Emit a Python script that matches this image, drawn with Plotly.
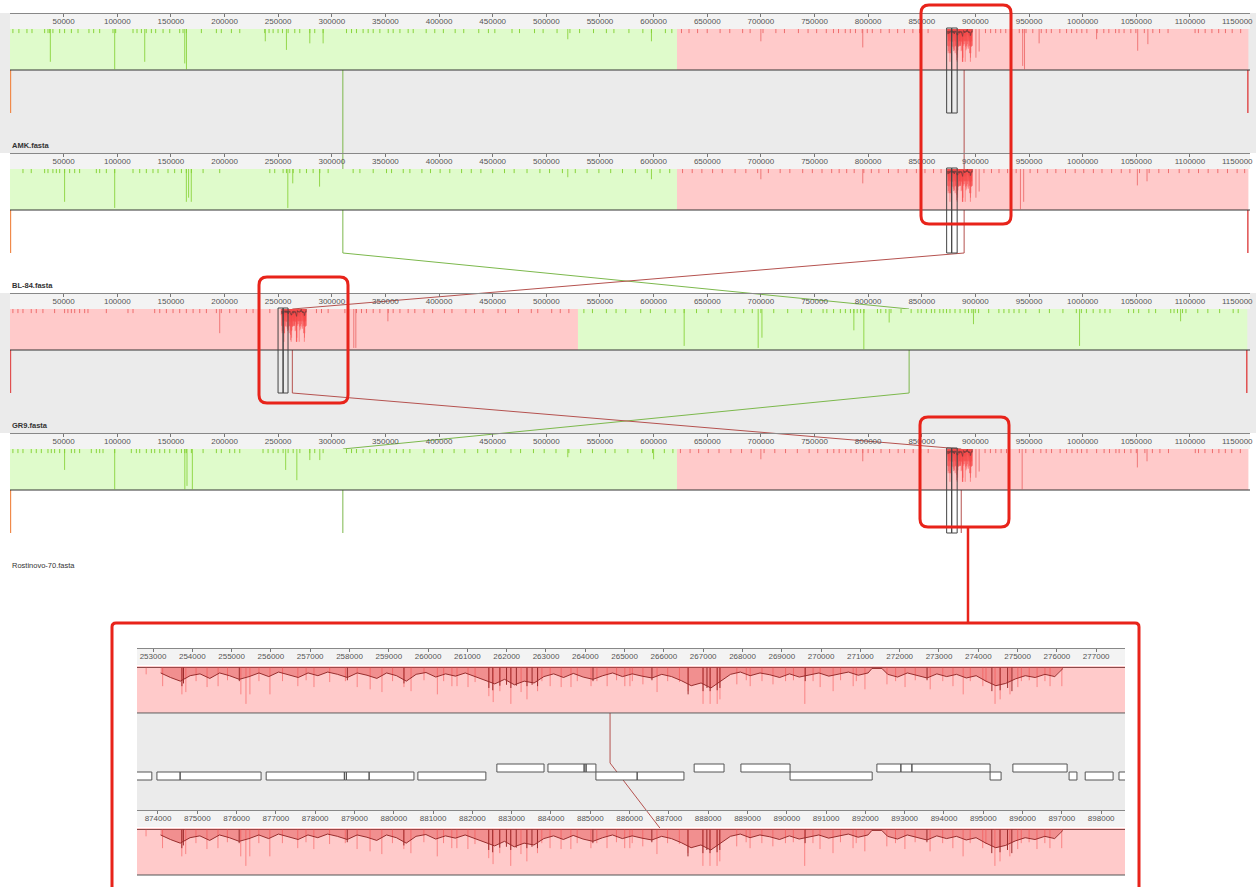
import plotly.graph_objects as go

W, H = 1256, 887

# ---------------- data ----------------
GENOMES = ["AMK.fasta", "BL-84.fasta", "GR9.fasta", "Rostinovo-70.fasta"]
GENOME_AXIS_KB = 1156.0

# LCB blocks per genome: (lcb id, start kb, end kb)
BLOCKS = [
    [("A", 0.0, 621.8), ("B", 621.8, 1154.5)],
    [("A", 0.0, 621.8), ("B", 621.8, 1154.5)],
    [("B", 0.0, 529.5), ("A", 529.5, 1153.5)],
    [("A", 0.0, 621.8), ("B", 621.8, 1154.5)],
]
# connection line position of each LCB in each genome (kb)
CONNECT = {"A": [310.3, 310.3, 838.2, 310.3], "B": [889.5, 889.5, 263.2, 886.8]}
# small LCBs at the genome ends
END_LINES = [[("C", 0.4), ("D", 1154.0)], [("C", 0.4), ("D", 1154.0)],
             [("D", 0.4), ("D", 1153.0)], [("C", 0.4)]]
# highlighted windows (kb)
HILITE = [[(873.2, 877.9), (877.9, 883.0)], [(873.2, 877.9), (877.9, 883.0)],
          [(249.9, 254.6), (254.6, 259.2)], [(873.2, 877.9), (877.9, 883.0)]]
LCB_B_DETAIL_START = [874.1, 874.1, 253.2, 874.1]

TICK_DEPTH = 0.1
TICKS = [
    [2.7, 8.3, 15.8, 20.5, 32.3, 35.4, 37, 40, 46.3, 50.9, 57.2, 63.4, 73.6, 78, 83.6, 96, 98.5, 114.7, 118.4,
     122.5, 127, 131.8, 135.8, 142.7, 148.9, 158.2, 161.3, 164.4, 178.4, 192.4, 197, 206.4, 214.2, 237.5, 241.5,
     245.3, 249.9, 254, 259.3, 265.5, 270.1, 279.5, 284.1, 291.9, 313.7, 318.4, 323, 329.2, 333.9, 338.6, 344.8,
     352.6, 357.2, 363.5, 371.2, 375.9, 388, 396, 404, 415, 423, 437, 446, 452, 468, 475, 489, 497, 510, 522, 531,
     544, 556, 563, 577, 590, 598, 611, 617, 626, 633, 641, 650, 662, 671, 683, 690, 702, 714, 722, 735, 744, 752,
     761, 767.7, 772.4, 778.7, 783.4, 788.2, 794.5, 799.2, 803.9, 811.8, 819.7, 827.5, 833.8, 841.7, 848, 855.9,
     909.4, 914.2, 918.9, 923.6, 928.3, 940.9, 944.1, 947.2, 953.5, 961.4, 966.1, 970.8, 978.7, 985, 989.7, 994.5,
     999.2, 1003.9, 1013.4, 1019.7, 1024.4, 1030.7, 1033.9, 1038.6, 1044.9, 1049.6, 1057.5, 1065.4, 1071.7,
     1079.6, 1104.8, 1107.9, 1114.2, 1120.5, 1126.8, 1133.1, 1139.4, 1147.3],
    [12.1, 19.8, 32.3, 35.4, 40, 43.2, 46.3, 50.9, 55.6, 60.3, 64.9, 80.5, 83.6, 89.8, 97.6, 114.7, 120.9, 127.1,
     133.3, 138, 147.3, 153.5, 159.8, 164.4, 169.1, 180, 195.5, 242.2, 246.8, 254.6, 257.7, 260.8, 264, 270.2,
     276.4, 282.6, 288.8, 296.6, 319.9, 326.2, 338.6, 351, 355.7, 366.6, 372.8, 384, 392, 401, 410, 421, 430, 439,
     450, 461, 470, 482, 494, 503, 515, 527, 538, 549, 560, 571, 583, 594, 606, 615, 627, 636, 645, 655, 664, 676,
     686, 697, 707, 718, 727, 739, 748, 757, 766, 773, 780, 787, 796, 803, 810, 819, 828, 836, 845, 853, 861, 868,
     908, 915, 922, 930, 938, 951, 958, 967, 975, 984, 993, 1001, 1010, 1018, 1027, 1036, 1044, 1053, 1062, 1071,
     1080, 1090, 1099, 1108, 1117, 1126, 1135, 1144, 1151],
    [2.7, 7.4, 12.1, 19.8, 24.5, 30.7, 41.6, 50.9, 54, 57.2, 60.3, 64.9, 69.6, 72.7, 89.8, 110, 114.7, 134.9,
     139.6, 145.8, 152, 158.2, 164.4, 170.7, 176.9, 183.1, 192.4, 197, 204.8, 211, 220.4, 226.6, 242.2, 285.7,
     290.4, 296.6, 312.2, 315.3, 323, 327.7, 332.3, 338.6, 344.8, 352.6, 357.2, 363.5, 371.2, 377.4, 386, 394, 405,
     412, 425, 433, 441, 455, 462, 474, 486, 492, 505, 513, 521, 535, 543, 556, 565, 574, 588, 597, 611, 620, 628.5,
     640, 651, 663, 676, 684, 692, 700, 712, 725, 738, 747, 758, 761.5, 767.8, 774.1, 778.8, 783.5, 786.7, 789.8,
     793, 796.1, 808.7, 811.8, 816.5, 821.3, 830.7, 840.1, 846.4, 849.5, 854.3, 859, 862.1, 866.8, 870, 873.1,
     876.3, 881, 885.7, 890.4, 893.6, 896.7, 899.9, 903, 912.4, 921.9, 926.6, 931.3, 936, 940.7, 947, 959.6, 969,
     981.6, 994.1, 998.8, 1003.5, 1009.8, 1016.1, 1020.8, 1025.5, 1042.8, 1047.5, 1052.2, 1061.7, 1068, 1082.1,
     1085.2, 1088.4, 1093.1, 1096.3, 1107.3, 1116.7, 1127.7, 1140.3, 1145],
    [2.7, 7.4, 12.1, 19.8, 24.5, 29.2, 35.4, 38.5, 41.6, 46.3, 50.9, 57.2, 60.3, 64.9, 75.8, 80.5, 83.6, 86.7,
     97.6, 113.1, 117.8, 120.9, 127.1, 131.8, 134.9, 139.6, 144.2, 148.9, 155.1, 159.8, 162.9, 164.4, 169.1, 180,
     192.4, 197, 204.8, 209.5, 214.2, 235.9, 240.6, 245.3, 249.9, 254.6, 259.3, 264, 270.2, 279.5, 284.1, 291.9,
     313.7, 318.4, 323, 329.2, 335.5, 341.7, 347.9, 354.1, 360.3, 366.6, 372.8, 386, 395, 403, 414, 424, 436, 445,
     453, 467, 476, 488, 498, 509, 521, 532, 543, 555, 564, 576, 589, 599, 610, 618, 625, 634, 642, 651, 661, 672,
     682, 691, 703, 713, 723, 734, 745, 753, 762, 768, 773, 779, 784, 789, 795, 800, 805, 812, 820, 828, 834, 842,
     849, 856, 909, 914, 919, 924, 929, 941, 947, 954, 961, 966, 971, 979, 985, 990, 995, 999, 1004, 1013, 1020,
     1025, 1031, 1034, 1039, 1045, 1050, 1058, 1065, 1072, 1080, 1105, 1108, 1114, 1121, 1127, 1133, 1139, 1147],
]
# deeper similarity dips: (kb, depth fraction)
SPIKES = [
    [(37.6, 0.8), (97.6, 0.98), (125.6, 0.8), (162.9, 0.84), (164.5, 0.98), (238, 0.3), (257.7, 0.51),
     (279.5, 0.35), (291.9, 0.35), (520, 0.25), (598, 0.3), (700, 0.3), (795, 0.45), (900.5, 0.7), (903.5, 0.55),
     (944.1, 0.9), (945.8, 0.98), (959.4, 0.35), (1013, 0.25), (1051.3, 0.53), (1060.8, 0.37)],
    [(50.9, 0.8), (97.6, 0.95), (164.4, 0.8), (166.5, 0.7), (169, 0.8), (259, 0.95), (263.6, 0.35), (288.6, 0.43),
     (520, 0.2), (598, 0.25), (700, 0.25), (795, 0.35), (900.5, 0.7), (903.5, 0.55), (942, 0.98), (945, 0.8),
     (1051, 0.4), (1060, 0.3)],
    [(195.5, 0.59), (320.5, 0.95), (322.4, 0.95), (352.3, 0.3), (628.5, 0.9), (697.5, 0.95), (701, 0.7),
     (786.7, 0.52), (796, 0.98), (819.6, 0.33), (898.2, 0.37), (997.1, 0.9), (1091.3, 0.3)],
    [(50.9, 0.51), (97.6, 0.98), (163, 0.98), (165, 0.9), (170, 0.98), (257, 0.51), (267.4, 0.76), (279.5, 0.27),
     (288.8, 0.27), (520, 0.2), (600, 0.25), (700, 0.25), (795, 0.3), (900.5, 0.7), (903.5, 0.55), (943.6, 0.98),
     (1051, 0.45), (1060, 0.3)],
]

# similarity profile of the detailed LCB: (offset kb from LCB start, depth fraction)
PROFILE = [(0.00, 0.12), (0.25, 0.22), (0.50, 0.30), (0.75, 0.18), (1.00, 0.14), (1.25, 0.24), (1.50, 0.12),
           (1.75, 0.18), (2.00, 0.26), (2.25, 0.20), (2.50, 0.12), (2.75, 0.20), (3.00, 0.10), (3.25, 0.16),
           (3.50, 0.22), (3.75, 0.12), (4.00, 0.18), (4.25, 0.10), (4.50, 0.15), (4.75, 0.22), (5.00, 0.12),
           (5.25, 0.17), (5.50, 0.24), (5.75, 0.12), (6.00, 0.18), (6.25, 0.30), (6.50, 0.15), (6.75, 0.11),
           (7.00, 0.21), (7.25, 0.14), (7.50, 0.19), (7.75, 0.12), (8.00, 0.20), (8.25, 0.28), (8.50, 0.36),
           (8.75, 0.26), (9.00, 0.38), (9.25, 0.30), (9.50, 0.34), (9.75, 0.20), (10.00, 0.14), (10.25, 0.22),
           (10.50, 0.13), (10.75, 0.21), (11.00, 0.26), (11.25, 0.18), (11.50, 0.12), (11.75, 0.20), (12.00, 0.14),
           (12.25, 0.19), (12.50, 0.23), (12.75, 0.15), (13.00, 0.20), (13.25, 0.29), (13.50, 0.40), (13.75, 0.34),
           (14.00, 0.45), (14.25, 0.30), (14.50, 0.15), (14.75, 0.10), (15.00, 0.18), (15.25, 0.12), (15.50, 0.16),
           (15.75, 0.22), (16.00, 0.14), (16.25, 0.21), (16.50, 0.16), (16.75, 0.12), (17.00, 0.19), (17.25, 0.14),
           (17.50, 0.10), (17.75, 0.17), (18.00, 0.12), (18.10, 0.02), (18.35, 0.02), (18.50, 0.15), (18.75, 0.21),
           (19.00, 0.12), (19.25, 0.18), (19.50, 0.23), (19.75, 0.14), (20.00, 0.20), (20.25, 0.15), (20.50, 0.23),
           (20.75, 0.18), (21.00, 0.30), (21.25, 0.40), (21.50, 0.35), (21.75, 0.25), (22.00, 0.18), (22.25, 0.22),
           (22.50, 0.15), (22.75, 0.20), (22.96, 0.02)]
LIGHT_DIPS = [(-0.37, 0.15), (0.05, 0.41), (0.54, 0.59), (0.64, 0.54), (0.9, 0.3), (1.18, 0.43), (1.46, 0.41),
              (1.7, 0.28), (2.04, 0.59), (2.17, 0.80), (2.27, 0.59), (2.5, 0.3), (2.78, 0.59), (3.1, 0.3),
              (3.49, 0.41), (3.7, 0.28), (3.90, 0.43), (4.3, 0.32), (4.7, 0.3), (5.00, 0.43), (5.33, 0.48),
              (5.63, 0.54), (5.9, 0.3), (6.19, 0.43), (6.37, 0.52), (6.7, 0.28), (7.04, 0.59), (7.2, 0.3),
              (7.41, 0.41), (7.54, 0.41), (7.82, 0.43), (8.0, 0.32), (8.35, 0.63), (8.46, 0.76), (8.63, 0.52),
              (8.91, 0.80), (9.17, 0.54), (9.32, 0.70), (9.59, 0.52), (9.7, 0.3), (9.91, 0.41), (10.19, 0.43),
              (10.44, 0.43), (10.6, 0.3), (10.95, 0.41), (11.1, 0.3), (11.36, 0.41), (11.6, 0.28), (11.81, 0.41),
              (11.94, 0.41), (12.0, 0.3), (12.27, 0.37), (12.63, 0.54), (12.9, 0.3), (13.2, 0.32), (13.42, 0.52),
              (13.80, 0.80), (13.98, 0.80), (14.16, 0.80), (14.23, 0.70), (14.66, 0.37), (14.9, 0.28),
              (15.00, 0.41), (15.3, 0.3), (15.58, 0.37), (15.9, 0.3), (16.1, 0.28), (16.39, 0.80), (16.6, 0.3),
              (16.78, 0.43), (17.11, 0.52), (17.3, 0.28), (17.62, 0.41), (17.7, 0.3), (17.92, 0.48), (18.48, 0.37),
              (18.7, 0.3), (18.94, 0.43), (19.2, 0.28), (19.58, 0.48), (19.9, 0.3), (20.16, 0.41), (20.42, 0.59),
              (20.6, 0.3), (20.92, 0.41), (21.0, 0.32), (21.23, 0.80), (21.36, 0.70), (21.61, 0.59), (21.81, 0.43),
              (21.9, 0.3), (22.1, 0.28), (22.30, 0.43), (22.5, 0.3), (22.63, 0.41), (22.93, 0.41)]
DARK_DIPS = [(0.54, 0.41), (0.58, 0.35), (2.0, 0.3), (4.75, 0.28), (6.19, 0.35), (8.35, 0.45), (8.45, 0.50),
             (8.63, 0.40), (8.80, 0.38), (8.91, 0.45), (9.05, 0.40), (9.32, 0.41), (9.45, 0.38), (9.59, 0.41),
             (11.0, 0.3), (12.5, 0.28), (13.42, 0.59), (13.80, 0.52), (13.90, 0.45), (13.98, 0.52), (14.16, 0.50),
             (14.23, 0.45), (16.4, 0.3), (19.5, 0.28), (21.15, 0.52), (21.36, 0.50), (21.55, 0.45), (21.66, 0.52)]

# detail view (GR9 above, Rostinovo-70 below), kb
ZOOM_GENOMES = [2, 3]
ZOOM_RANGE = [(252.593, 277.733), (873.466, 898.606)]
ZOOM_LCB_START = [253.196, 874.066]
ZOOM_CONNECT = [264.63, 886.77]
GENES_FWD = [(261.75, 262.95), (263.05, 263.97), (263.97, 264.02), (264.02, 264.27), (266.77, 267.53),
             (267.96, 269.21), (271.42, 272.03), (272.03, 272.31), (272.31, 274.30), (274.88, 276.26)]
GENES_REV = [(252.30, 252.97), (253.10, 253.69), (253.69, 255.75), (255.88, 257.87), (257.87, 257.92),
             (257.92, 258.50), (258.50, 259.64), (259.74, 261.47), (264.27, 265.32), (265.32, 266.51),
             (269.21, 271.30), (274.30, 274.58), (276.31, 276.51), (276.72, 277.43), (277.58, 278.10)]

RULER_TICKS = list(range(50000, 1150001, 50000))

# ---------------- style / layout constants ----------------
LCB_FILL = {"A": "#dffbcb", "B": "#ffcaca"}
LCB_TICK = {"A": "#86d236", "B": "#ee6a6a"}
LCB_LINE = {"A": "#7cb84c", "B": "#b5524f", "C": "#f08a4b", "D": "#e05050"}
GREY = "#ebebeb"
BAND_C = "#f3f3f3"
RULER_Y = [13, 153, 293, 433]
LABEL_Y = [145, 285.5, 425.5, 565.5]
BAND, BLOCK_H, LOWER_H = 16, 41, 43
ZR_Y = [648, 810]
ZBAND, ZBLOCK_H = 18, 47
FONT = "Liberation Sans"
TICK_FONT = dict(family=FONT, size=8, color="#555")

traces = []
K = 1000.0


def segs(xs, y0, y1, color, width, xa, opacity=1.0):
    X, Y = [], []
    for x, a, b in zip(xs, y0, y1):
        X += [x, x, None]
        Y += [a, b, None]
    return go.Scatter(x=X, y=Y, mode="lines", line=dict(color=color, width=width), opacity=opacity,
                      xaxis=xa, yaxis="y", hoverinfo="skip", showlegend=False)


def rects(spans, y0, y1, fill, line_color, lw, xa):
    X, Y = [], []
    for s, e in spans:
        X += [s, e, e, s, s, None]
        Y += [y0, y0, y1, y1, y0, None]
    return go.Scatter(x=X, y=Y, mode="lines", fill="toself", fillcolor=fill,
                      line=dict(color=line_color, width=lw), xaxis=xa, yaxis="y",
                      hoverinfo="skip", showlegend=False)


def lcb_at(blocks, kb):
    for lid, s, e in blocks:
        if s <= kb <= e:
            return lid
    return blocks[-1][0]


def detail(start_kb, top, h, xa, overview):
    out = []
    xs = [(start_kb + o) * K for o, _ in PROFILE]
    ys = [top + d * h for _, d in PROFILE]
    fill = "rgba(240,70,70,0.85)" if overview else "rgba(225,70,70,0.45)"
    out.append(go.Scatter(x=xs + xs[::-1], y=ys + [top] * len(xs), mode="lines", fill="toself",
                          fillcolor=fill, line=dict(width=0), xaxis=xa, yaxis="y",
                          hoverinfo="skip", showlegend=False))
    out.append(segs([(start_kb + o) * K for o, _ in LIGHT_DIPS], [top] * len(LIGHT_DIPS),
                    [top + d * h for _, d in LIGHT_DIPS], "rgba(245,75,75,0.55)", 1, xa))
    if overview:
        out.append(go.Scatter(x=xs, y=[top + 0.4 * (y - top) for y in ys], mode="lines",
                              line=dict(color="#7a3a3a", width=0.8), xaxis=xa, yaxis="y",
                              hoverinfo="skip", showlegend=False))
    else:
        out.append(go.Scatter(x=xs, y=ys, mode="lines", line=dict(color="#8c1f1f", width=0.9), xaxis=xa,
                              yaxis="y", hoverinfo="skip", showlegend=False))
        out.append(segs([(start_kb + o) * K for o, _ in DARK_DIPS], [top] * len(DARK_DIPS),
                        [top + d * h for _, d in DARK_DIPS], "#9b2a2a", 1, xa))
    return out


# ---- genome overview: connection lines (below blocks) ----
for lid, pos in CONNECT.items():
    X, Y = [], []
    for g in range(4):
        top = RULER_Y[g] + BAND
        X += [pos[g] * K, pos[g] * K]
        Y += [top, top + BLOCK_H + LOWER_H]
    traces.append(go.Scatter(x=X, y=Y, mode="lines", line=dict(color=LCB_LINE[lid], width=1),
                             xaxis="x", yaxis="y", hoverinfo="skip", showlegend=False))

for g in range(4):
    top = RULER_Y[g] + BAND
    ctr = top + BLOCK_H
    bot = ctr + LOWER_H
    for lid, p in END_LINES[g]:
        traces.append(segs([p * K], [ctr], [bot], LCB_LINE[lid], 1.5, "x"))
    for lid, s, e in BLOCKS[g]:
        traces.append(rects([(s * K, e * K)], top, ctr, LCB_FILL[lid], "rgba(0,0,0,0)", 0, "x"))
    for lid in LCB_FILL:
        tk = [t for t in TICKS[g] if lcb_at(BLOCKS[g], t) == lid]
        traces.append(segs([t * K for t in tk], [top] * len(tk), [top + TICK_DEPTH * BLOCK_H] * len(tk),
                           LCB_TICK[lid], 1, "x", 0.95))
        sp = [(p, d) for p, d in SPIKES[g] if lcb_at(BLOCKS[g], p) == lid]
        traces.append(segs([p * K for p, _ in sp], [top] * len(sp), [top + d * BLOCK_H for _, d in sp],
                           LCB_TICK[lid], 1, "x", 0.85))
    traces += detail(LCB_B_DETAIL_START[g], top, BLOCK_H, "x", True)
    traces.append(go.Scatter(x=[0, GENOME_AXIS_KB * K], y=[ctr, ctr], mode="lines",
                             line=dict(color="#333333", width=1), xaxis="x", yaxis="y",
                             hoverinfo="skip", showlegend=False))
    traces.append(rects([(s * K, e * K) for s, e in HILITE[g]], top - 1, bot, "rgba(0,0,0,0)", "#444444", 1, "x"))

# ruler axes need a trace each
for i in range(4):
    traces.append(go.Scatter(x=[None], y=[None], xaxis=f"x{i + 2}", yaxis="y", showlegend=False,
                             hoverinfo="skip"))

# ---- detail view ----
zx = ["x6", "x7"]
ztop = [ZR_Y[i] + ZBAND for i in range(2)]
# connector (drawn in the GR9 detail axis; Rostinovo position mapped onto it)
ro_on_gr9 = ZOOM_CONNECT[1] - ZOOM_RANGE[1][0] + ZOOM_RANGE[0][0]
traces.append(go.Scatter(x=[ZOOM_CONNECT[0] * K, ZOOM_CONNECT[0] * K, ro_on_gr9 * K],
                         y=[ztop[0], 763, ztop[1]], mode="lines", line=dict(color=LCB_LINE["B"], width=1),
                         xaxis="x6", yaxis="y", hoverinfo="skip", showlegend=False))
for i in range(2):
    g = ZOOM_GENOMES[i]
    top = ztop[i]
    ctr = top + ZBLOCK_H
    r0, r1 = ZOOM_RANGE[i]
    for lid, s, e in BLOCKS[g]:
        s2, e2 = max(s, r0 - 1), min(e, r1 + 1)
        if s2 < e2:
            traces.append(rects([(s2 * K, e2 * K)], top, ctr, LCB_FILL[lid], "rgba(0,0,0,0)", 0, zx[i]))
    traces.append(go.Scatter(x=[r0 * K, r1 * K], y=[top + 1.5, top + 1.5], mode="lines",
                             line=dict(color="#8a4a4a", width=1), xaxis=zx[i], yaxis="y",
                             hoverinfo="skip", showlegend=False))
    traces += detail(ZOOM_LCB_START[i], top + 1.5, ZBLOCK_H - 1.5, zx[i], False)
    traces.append(go.Scatter(x=[r0 * K, r1 * K], y=[ctr, ctr], mode="lines",
                             line=dict(color="#555555", width=1.2), xaxis=zx[i], yaxis="y",
                             hoverinfo="skip", showlegend=False))
traces.append(rects([(s * K, e * K) for s, e in GENES_FWD], 764, 772, "#ffffff", "#555555", 1, "x6"))
traces.append(rects([(s * K, e * K) for s, e in GENES_REV], 772, 780, "#ffffff", "#555555", 1, "x6"))

fig = go.Figure(traces)

# ---------------- shapes ----------------
def px(x):
    return x / W


def py(y):
    return 1 - y / H


shapes = []


def prect(x0, y0, x1, y1, color, layer="below"):
    shapes.append(dict(type="rect", xref="paper", yref="paper", x0=px(x0), x1=px(x1), y0=py(y1), y1=py(y0),
                       fillcolor=color, line=dict(width=0), layer=layer))


prect(0, RULER_Y[0], W, RULER_Y[1], GREY)
prect(0, RULER_Y[2], W, RULER_Y[3], GREY)
for r in RULER_Y:
    prect(10, r, 1250, r + BAND, BAND_C)
prect(137, 714, 1125, ZR_Y[1], GREY)
for r in ZR_Y:
    prect(137, r, 1125, r + ZBAND - 1, BAND_C)


def rrect(x0, y0, x1, y1, r):
    p = (f"M {px(x0 + r)},{py(y0)} L {px(x1 - r)},{py(y0)} Q {px(x1)},{py(y0)} {px(x1)},{py(y0 + r)} "
         f"L {px(x1)},{py(y1 - r)} Q {px(x1)},{py(y1)} {px(x1 - r)},{py(y1)} L {px(x0 + r)},{py(y1)} "
         f"Q {px(x0)},{py(y1)} {px(x0)},{py(y1 - r)} L {px(x0)},{py(y0 + r)} Q {px(x0)},{py(y0)} {px(x0 + r)},{py(y0)} Z")
    shapes.append(dict(type="path", xref="paper", yref="paper", path=p,
                       line=dict(color="#e8231a", width=3), layer="above"))


rrect(921, 5, 1011, 224, 8)
rrect(259, 277, 348, 403, 8)
rrect(920, 417, 1009, 527, 8)
rrect(112, 623, 1139, 905, 4)
shapes.append(dict(type="line", xref="paper", yref="paper", x0=px(968), x1=px(968), y0=py(527), y1=py(623),
                   line=dict(color="#e8231a", width=2.5), layer="above"))

annotations = []
for g in range(4):
    txt = GENOMES[g] if g == 3 else f"<b>{GENOMES[g]}</b>"
    annotations.append(dict(text=txt, x=px(10), xref="paper", y=LABEL_Y[g], yref="y", xanchor="left",
                            yanchor="middle", showarrow=False, font=dict(family=FONT, size=7.5, color="#333")))
    # last ruler label sits at the right edge (plotly hides it), so it is written as text kept inside the page
    annotations.append(dict(text=str(RULER_TICKS[-1]), x=px(1255), xref="paper", y=RULER_Y[g] + 8.5,
                            yref="y", xanchor="right", yanchor="middle", showarrow=False, font=TICK_FONT))

axis_common = dict(side="top", anchor="free", ticks="inside", ticklen=3, tickcolor="#777",
                   showline=True, linecolor="#888", linewidth=1, ticklabelposition="inside",
                   tickfont=TICK_FONT, showgrid=False, zeroline=False,
                   tickformat="d", fixedrange=True)

layout = dict(
    width=W, height=H, margin=dict(l=0, r=0, t=0, b=0), paper_bgcolor="white",
    plot_bgcolor="rgba(0,0,0,0)", showlegend=False, hovermode=False,
    xaxis=dict(domain=[px(10), px(1250)], range=[0, GENOME_AXIS_KB * K], visible=False, fixedrange=True),
    yaxis=dict(domain=[0, 1], range=[H, 0], visible=False, fixedrange=True),
    shapes=shapes, annotations=annotations,
)
for i in range(4):
    layout[f"xaxis{i + 2}"] = dict(overlaying="x", position=py(RULER_Y[i]), range=[0, GENOME_AXIS_KB * K],
                                   tickvals=RULER_TICKS[:-1], **axis_common)
for i in range(2):
    layout[f"xaxis{i + 6}"] = dict(domain=[px(137), px(1125)], position=py(ZR_Y[i]),
                                   range=[ZOOM_RANGE[i][0] * K, ZOOM_RANGE[i][1] * K], dtick=1000, tick0=0,
                                   **axis_common)
fig.update_layout(**layout)
fig.write_html("out.html", config={"displayModeBar": False},
               post_script="document.body.style.margin='0px';document.body.style.overflow='hidden';")
